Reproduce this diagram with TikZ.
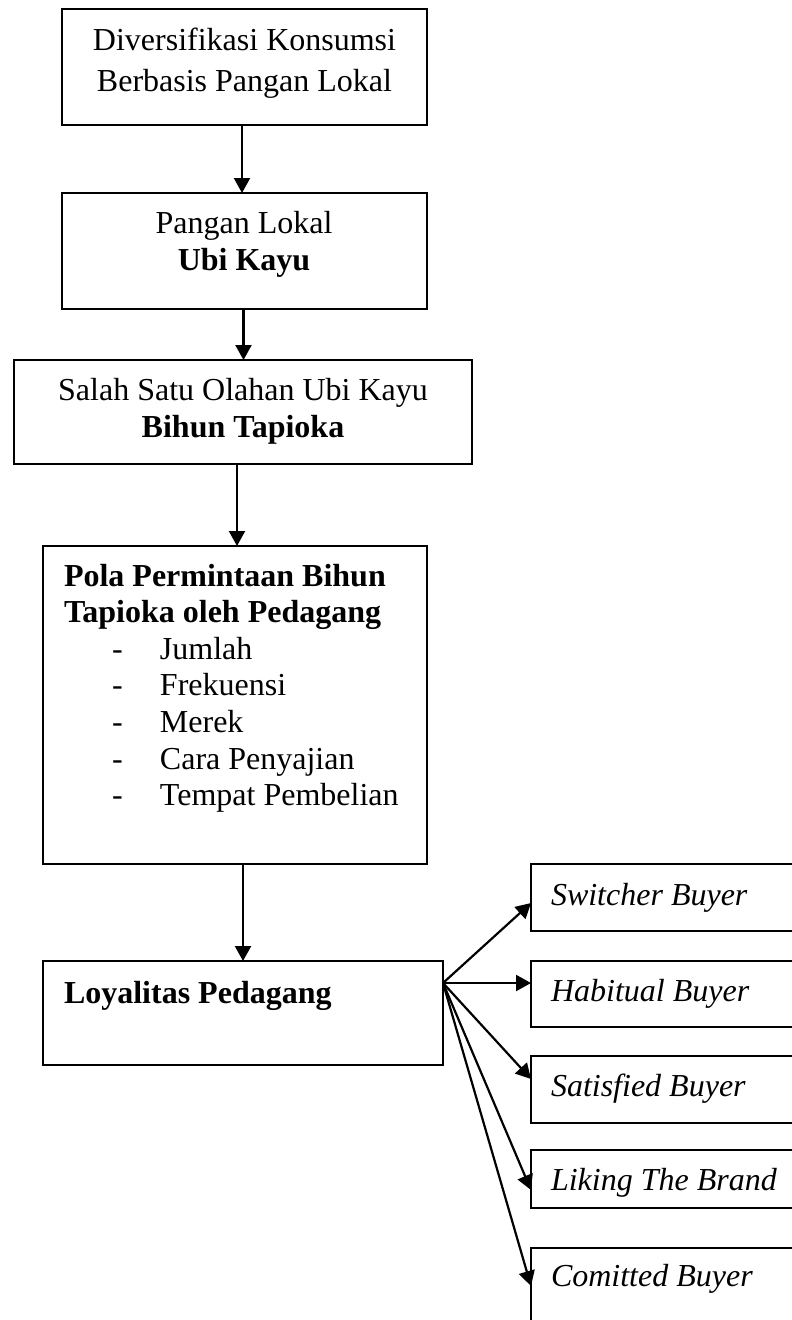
\documentclass[tikz,border=0pt]{standalone}
\usepackage{fontspec}
\setmainfont{Liberation Serif}
\usetikzlibrary{arrows.meta}
\newcommand{\tb}[2][c]{\begin{tabular}[t]{@{}#1@{}}#2\end{tabular}}
\newcommand{\itm}[1]{\hspace*{48pt}\makebox[48pt][l]{-}#1}
\begin{document}
\begin{tikzpicture}[x=1pt,y=-1pt,
  box/.style={draw, line width=1.8pt, inner sep=0pt, outer sep=0pt, anchor=north west},
  txt/.style={inner sep=0pt, outer sep=0pt, font=\fontsize{32}{37}\selectfont},
  arr/.style={line width=2.2pt, -{Triangle[length=15pt,width=16pt]}}]
\useasboundingbox (0,0) rectangle (792,1320);
\clip (0,0) rectangle (792,1320);
% boxes
\node[box, minimum width=365pt, minimum height=116pt] (b1) at (62,9) {};
\node[box, minimum width=365pt, minimum height=116pt] (b2) at (62,193) {};
\node[box, minimum width=458pt, minimum height=104pt] (b3) at (14,360) {};
\node[box, minimum width=384pt, minimum height=318pt] (b4) at (43,546) {};
\node[box, minimum width=400pt, minimum height=104pt] (b5) at (43,961) {};
\node[box, minimum width=280pt, minimum height=67pt] (r1) at (531,864) {};
\node[box, minimum width=280pt, minimum height=66pt] (r2) at (531,961) {};
\node[box, minimum width=280pt, minimum height=67pt] (r3) at (531,1056) {};
\node[box, minimum width=280pt, minimum height=58pt] (r4) at (531,1150) {};
\node[box, minimum width=280pt, minimum height=100pt] (r5) at (531,1248) {};
% texts
\node[txt, anchor=base, font=\fontsize{32}{41}\selectfont] (t1) at (244.5,50) {\tb{Diversifikasi Konsumsi\\Berbasis Pangan Lokal}};
\node[txt, anchor=base] (t2) at (244,233) {\tb{Pangan Lokal\\\textbf{Ubi Kayu}}};
\node[txt, anchor=base] (t3) at (243,400) {\tb{Salah Satu Olahan Ubi Kayu\\\textbf{Bihun Tapioka}}};
\node[txt, anchor=base west, font=\fontsize{32}{36.6}\selectfont] (t4) at (64,586) {\tb[l]{\textbf{Pola Permintaan Bihun}\\\textbf{Tapioka oleh Pedagang}\\\itm{Jumlah}\\\itm{Frekuensi}\\\itm{Merek}\\\itm{Cara Penyajian}\\\itm{Tempat Pembelian}}};
\node[txt, anchor=base west] (t5) at (64,1003) {\textbf{Loyalitas Pedagang}};
\node[txt, anchor=base west] (s1) at (551,905) {\itshape Switcher Buyer};
\node[txt, anchor=base west] (s2) at (551,1001) {\itshape Habitual Buyer};
\node[txt, anchor=base west] (s3) at (551,1096) {\itshape Satisfied Buyer};
\node[txt, anchor=base west] (s4) at (551,1190) {\itshape Liking The Brand};
\node[txt, anchor=base west] (s5) at (551,1286) {\itshape Comitted Buyer};
% vertical arrows
\draw[arr] ([xshift=-2.5pt]b1.south) -- ([xshift=-2.5pt]b1.south |- b2.north);
\draw[arr] ([xshift=-1pt]b2.south) -- ([xshift=-1pt]b2.south |- b3.north);
\draw[arr] ([xshift=-6pt]b3.south) -- ([xshift=-6pt]b3.south |- b4.north);
\draw[arr] (b5.north |- b4.south) -- (b5.north);
% fan
\coordinate (fan) at ([yshift=30pt]b5.east);
\draw[arr] (fan) -- ([yshift=-5.5pt]r1.west);
\draw[arr] (fan) -- ([yshift=11pt]r2.west);
\draw[arr] (fan) -- ([yshift=10.5pt]r3.west);
\draw[arr] (fan) -- ([yshift=-11pt]r4.west);
\draw[arr] (fan) -- ([yshift=12pt]r5.west);
\end{tikzpicture}
\end{document}
